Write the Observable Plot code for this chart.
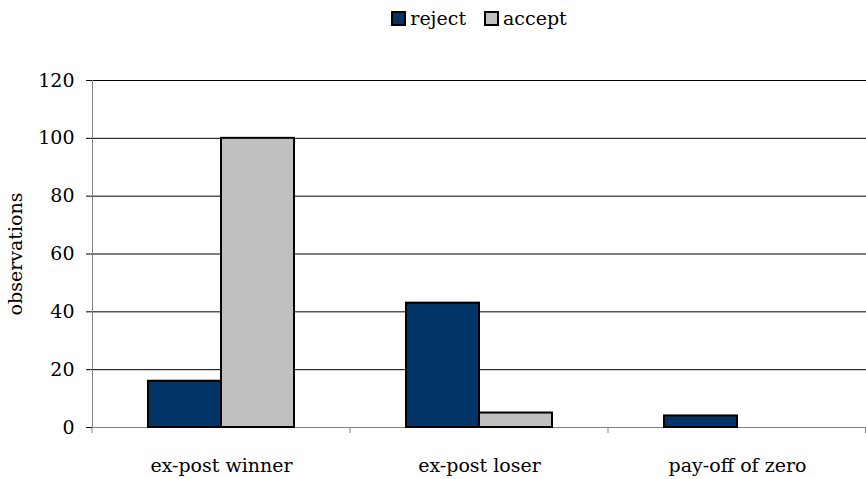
<!DOCTYPE html>
<html><head><meta charset="utf-8">
<script src="https://cdn.jsdelivr.net/npm/d3@7"></script>
<script src="https://cdn.jsdelivr.net/npm/@observablehq/plot@0.6"></script>
<style>
body{margin:0;background:#fff;font-family:"DejaVu Serif",serif;}
#legend{height:40px;width:866px;box-sizing:border-box;padding-left:92px;padding-top:8px;display:flex;justify-content:center;align-items:flex-start;gap:18px;font-size:19px;line-height:20px;}
.item{display:flex;align-items:center;gap:4px;}
.sw{width:11px;height:11px;border:2px solid #000;}
</style></head><body>
<div id="legend"></div>
<div id="chart"></div>
<script>
const categories = ["ex-post winner", "ex-post loser", "pay-off of zero"];
const responses = ["reject", "accept"];
const rejectValues = [16, 43, 4];
const acceptValues = [100, 5, 0];
const yTicks = [0, 20, 40, 60, 80, 100, 120];
const colors = ["#003366", "#c0c0c0"];

const data = categories.flatMap((c, i) => [
  {category: c, response: "reject", value: rejectValues[i]},
  {category: c, response: "accept", value: acceptValues[i]}
]);

const legend = d3.select("#legend");
responses.forEach((r, i) => {
  const it = legend.append("div").attr("class", "item");
  it.append("div").attr("class", "sw").style("background", colors[i]);
  it.append("span").text(r);
});

const chart = Plot.plot({
  width: 866,
  height: 439,
  marginLeft: 92,
  marginRight: 0,
  marginTop: 40,
  marginBottom: 52,
  style: {fontFamily: "DejaVu Serif", fontSize: "19px", background: "white", color: "black"},
  fx: {domain: categories, padding: 0, label: null},
  x: {domain: responses, paddingInner: 0, paddingOuter: 0.75, axis: null},
  y: {domain: [0, 120], label: "observations"},
  color: {domain: responses, range: colors},
  marks: [
    Plot.ruleY(yTicks.filter(d => d > 0), {stroke: "black", strokeWidth: 1}),
    Plot.frame({anchor: "bottom", stroke: "#808080"}),
    Plot.frame({anchor: "left", stroke: "#808080", facetAnchor: "left"}),
    Plot.barY(data.filter(d => d.value > 0), {fx: "category", x: "response", y: "value", fill: "response", stroke: "black", strokeWidth: 2}),
    Plot.axisY({ticks: yTicks, tickSize: 6, tickPadding: 12, stroke: "black", label: "observations", labelAnchor: "center", labelOffset: 84, labelArrow: "none"}),
    Plot.axisFx({anchor: "bottom", tickSize: 0, tickPadding: 31, label: null})
  ]
});
document.getElementById("chart").appendChild(chart);

const fx = chart.scale("fx");
const yS = chart.scale("y");
const y0 = yS.apply(0);
const bounds = categories.map(c => fx.apply(c)).concat([fx.apply(categories[categories.length - 1]) + fx.bandwidth]);
d3.select(chart).append("g")
  .selectAll("line").data(bounds).join("line")
  .attr("x1", d => Math.min(d, 865.5)).attr("x2", d => Math.min(d, 865.5))
  .attr("y1", y0).attr("y2", y0 + 6)
  .attr("stroke", "#808080");
</script>
</body></html>
